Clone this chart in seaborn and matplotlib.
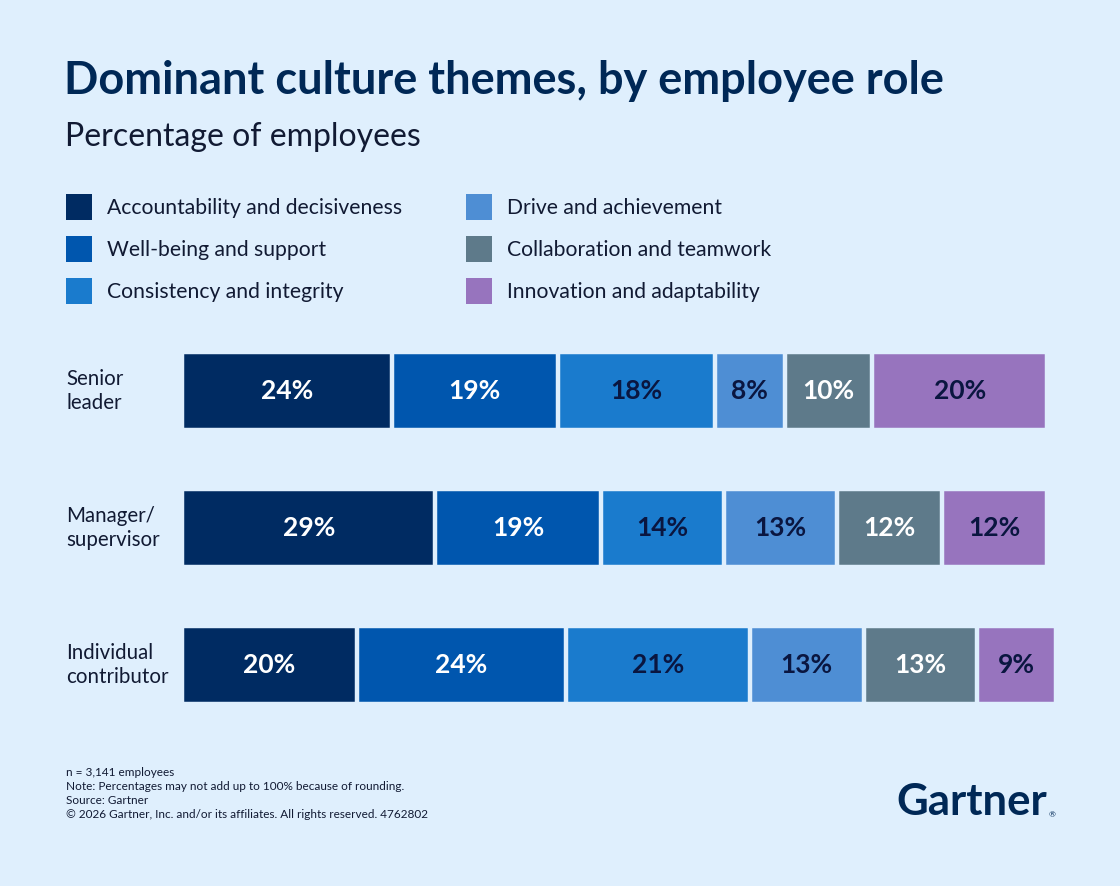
import matplotlib.pyplot as plt
import matplotlib.transforms as mtransforms
from matplotlib.patches import Rectangle
import pandas as pd
import seaborn as sns

# data
roles = ["Senior leader", "Manager/supervisor", "Individual contributor"]
role_labels = ["Senior\nleader", "Manager/\nsupervisor", "Individual\ncontributor"]
themes = [
    "Accountability and decisiveness",
    "Well-being and support",
    "Consistency and integrity",
    "Drive and achievement",
    "Collaboration and teamwork",
    "Innovation and adaptability",
]
accountability = [24, 29, 20]
wellbeing = [19, 19, 24]
consistency = [18, 14, 21]
drive = [8, 13, 13]
collaboration = [10, 12, 13]
innovation = [20, 12, 9]

colors = ["#002B62", "#0056AE", "#1A7BCD", "#4E8ED4", "#5E7A8A", "#9774BE"]
label_colors = ["white", "white", "#0A1640", "#0A1640", "white", "#0A1640"]
BG = "#DFEFFD"
NAVY = "#002856"
TEXT = "#111A33"

W, H = 1120, 886


def fx(px):
    return px / W


def fy(py):
    return 1 - py / H


sns.set_theme(style="white")
plt.rcParams["font.family"] = ["Lato", "DejaVu Sans"]

df = pd.DataFrame(
    {
        "role": roles,
        themes[0]: accountability,
        themes[1]: wellbeing,
        themes[2]: consistency,
        themes[3]: drive,
        themes[4]: collaboration,
        themes[5]: innovation,
    }
)
cum = df[themes].cumsum(axis=1)
cum["role"] = roles

fig = plt.figure(figsize=(W / 100, H / 100), dpi=100, facecolor=BG)
ax = fig.add_axes([fx(182), fy(733.5), fx(872), 411 / H])
ax.set_facecolor(BG)

# stacked bars: draw cumulative totals from the longest down
for i in range(len(themes) - 1, -1, -1):
    sns.barplot(
        data=cum, x=themes[i], y="role", order=roles, orient="h",
        color=colors[i], width=0.575, edgecolor=BG, linewidth=3.2,
        saturation=1, ax=ax,
    )

for r, role in enumerate(roles):
    left = 0
    for i, t in enumerate(themes):
        v = df.loc[r, t]
        ax.text(left + v / 2, r, f"{v}%", ha="center", va="center",
                color=label_colors[i], fontsize=19, fontweight="bold")
        left += v

ax.set_xlim(0, 99.8)
ax.set_ylim(2.5, -0.5)
ax.set_xlabel("")
ax.set_ylabel("")
ax.set_xticks([])
ax.set_yticks([])
for s in ax.spines.values():
    s.set_visible(False)

# role labels at left
trans = mtransforms.blended_transform_factory(fig.transFigure, ax.transData)
for r, lab in enumerate(role_labels):
    ax.text(fx(66), r, lab, transform=trans, ha="left", va="center",
            fontsize=14.8, color=TEXT, linespacing=1.3)

# title and subtitle
fig.text(fx(64), fy(81), "Dominant culture themes, by employee role",
         fontsize=32.5, fontweight="bold", color=NAVY, va="center")
fig.text(fx(65), fy(137), "Percentage of employees",
         fontsize=23, color=TEXT, va="center")

# legend
for i, (t, c) in enumerate(zip(themes, colors)):
    col, row = divmod(i, 3)
    x0 = 66 + col * 400
    yc = 207 + row * 42
    fig.add_artist(Rectangle((fx(x0), fy(yc + 13)), fx(26), 26 / H,
                             facecolor=c, edgecolor="none",
                             transform=fig.transFigure))
    fig.text(fx(x0 + 41), fy(yc + 1), t, fontsize=15.2, color=TEXT,
             va="center")

# footer
notes = [
    "n = 3,141 employees",
    "Note: Percentages may not add up to 100% because of rounding.",
    "Source: Gartner",
    "\u00a9 2026 Gartner, Inc. and/or its affiliates. All rights reserved. 4762802",
]
for k, line in enumerate(notes):
    fig.text(fx(66), fy(772 + k * 14), line, fontsize=8.5, color=TEXT,
             va="center")

fig.text(fx(896), fy(802), "Gartner", fontsize=31.5, fontweight="bold",
         color=NAVY, va="center")
fig.text(fx(1049), fy(815), "\u00ae", fontsize=6, color=NAVY, va="center")

fig.savefig("out.png", dpi=100, facecolor=BG)
